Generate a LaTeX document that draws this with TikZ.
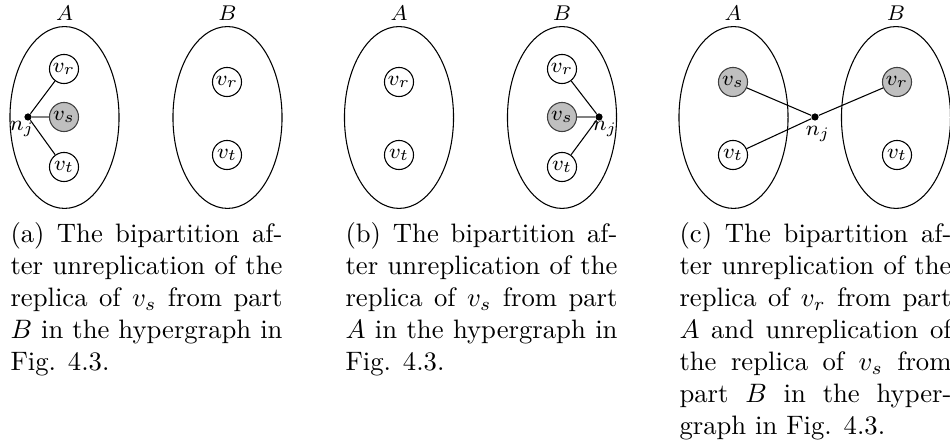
\documentclass[tikz,border=0pt]{standalone}
\usetikzlibrary{shapes.geometric}
\begin{document}
\begin{tikzpicture}[x=0.375pt,y=-0.375pt,
  part/.style={draw, ellipse, minimum width=40.9pt, minimum height=68.2pt, inner sep=0pt},
  vtx/.style={draw, circle, minimum size=10.9pt, inner sep=0pt, font=\footnotesize},
  rep/.style={vtx, fill=gray!50, draw=black!75},
  net/.style={circle, fill=black, inner sep=0pt, minimum size=2.7pt},
  lbl/.style={font=\footnotesize, inner sep=0pt},
  hedge/.style={draw=gray, line width=0.8pt},
  pinedge/.style={draw=black},
  captext/.style={anchor=north west, text width=102pt, align=justify, inner sep=0pt, font=\normalsize}]
\useasboundingbox (0,0) rectangle (950,443);
% ---------- (a)
\node[part] (aA) at (64.5,117.5) {};
\node[part] (aB) at (227.5,117.5) {};
\node[lbl] (aAl) at (64.5,13) {$A$};
\node[lbl] (aBl) at (227.5,13) {$B$};
\node[vtx] (avr) at (64,69) {$v_r$};
\node[rep] (avs) at (64,117) {$v_s$};
\node[vtx] (avt) at (64,167) {$v_t$};
\node[vtx] (aBvr) at (227,82) {$v_r$};
\node[vtx] (aBvt) at (227,155) {$v_t$};
\node[net] (anj) at (28,117) {};
\node[lbl] (anjl) at (22,129) {$n_j$};
\draw[pinedge] (anj) -- (avr);
\draw[pinedge] (anj) -- (avt);
\draw[hedge] (anj) -- (avs);
\node[captext] (capa) at (10,222) {(a) The bipartition af-\linebreak ter unreplication of the\linebreak replica of $v_s$ from part\linebreak $B$ in the hypergraph in\linebreak Fig. 4.3.};
% ---------- (b)
\node[part] (bA) at (399,117.5) {};
\node[part] (bB) at (562,117.5) {};
\node[lbl] (bAl) at (399,13) {$A$};
\node[lbl] (bBl) at (562,13) {$B$};
\node[vtx] (bAvr) at (399,82) {$v_r$};
\node[vtx] (bAvt) at (399,155) {$v_t$};
\node[vtx] (bvr) at (562,69) {$v_r$};
\node[rep] (bvs) at (562,117) {$v_s$};
\node[vtx] (bvt) at (562,167) {$v_t$};
\node[net] (bnj) at (599,117) {};
\node[lbl] (bnjl) at (605,129) {$n_j$};
\draw[pinedge] (bnj) -- (bvr);
\draw[pinedge] (bnj) -- (bvt);
\draw[hedge] (bnj) -- (bvs);
\node[captext] (capb) at (345,222) {(b) The bipartition af-\linebreak ter unreplication of the\linebreak replica of $v_s$ from part\linebreak $A$ in the hypergraph in\linebreak Fig. 4.3.};
% ---------- (c)
\node[part] (cA) at (733.5,117.5) {};
\node[part] (cB) at (896,117.5) {};
\node[lbl] (cAl) at (733,13) {$A$};
\node[lbl] (cBl) at (896,13) {$B$};
\node[rep] (cvs) at (733,82) {$v_s$};
\node[vtx] (cvt) at (733,155) {$v_t$};
\node[rep] (cvr) at (897,82) {$v_r$};
\node[vtx] (cBvt) at (897,155) {$v_t$};
\node[net] (cnj) at (815,117) {};
\node[lbl] (cnjl) at (818,134) {$n_j$};
\draw[pinedge] (cnj) -- (cvs);
\draw[pinedge] (cnj) -- (cvt);
\draw[pinedge] (cnj) -- (cvr);
\node[captext] (capc) at (679,222) {(c) The bipartition af-\linebreak ter unreplication of the\linebreak replica of $v_r$ from part\linebreak $A$ and unreplication of\linebreak the replica of $v_s$ from\linebreak part $B$ in the hyper-\linebreak graph in Fig. 4.3.};
\end{tikzpicture}
\end{document}
